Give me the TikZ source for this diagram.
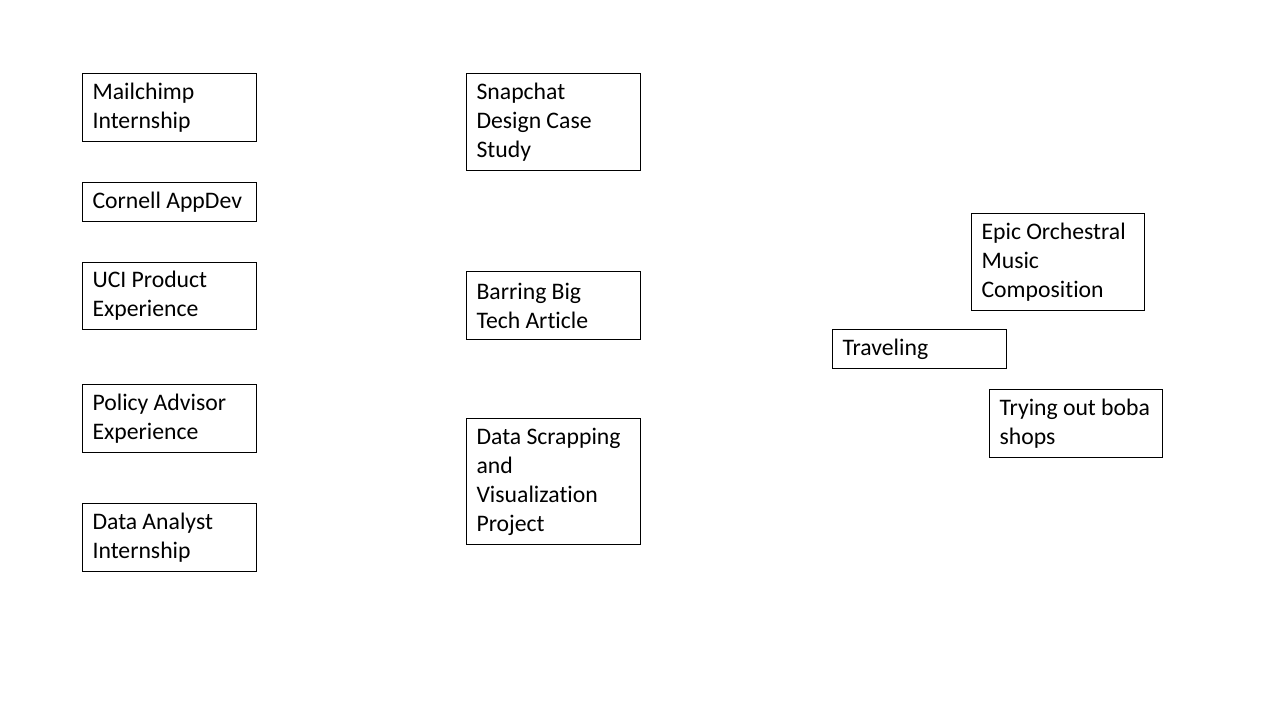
\documentclass[tikz,border=0pt]{standalone}
\usepackage{fontspec}
\setmainfont{Carlito}[Ligatures=NoCommon]
\usepackage{tikz}

\begin{document}
\begin{tikzpicture}[x=0.02cm, y=-0.02cm,
		card/.style={draw=black, line width=0.6pt, anchor=north west, align=left,
			inner xsep=5.7pt, inner ysep=0pt, text width=174*0.02cm-11.4pt,
			font=\fontsize{13.5}{16.5}\selectfont,
			execute at begin node={\spaceskip=0.22em\relax}}]
			\useasboundingbox (0,0) rectangle (1280,720);
			
			\node[card, minimum height=68*0.02cm] (mailchimp) at (82,73) {Mailchimp\\Internship};
			\node[card, minimum height=39*0.02cm] (appdev) at (82,182) {Cornell AppDev};
			\node[card, minimum height=67*0.02cm] (uci) at (82,262) {UCI Product\\Experience};
			\node[card, minimum height=68*0.02cm] (policy) at (82,384) {Policy Advisor\\Experience};
			\node[card, minimum height=68*0.02cm] (analyst) at (82,503) {Data Analyst\\Internship};
			
			\node[card, minimum height=97*0.02cm] (snapchat) at (466,73) {Snapchat\\Design Case\\Study};
			\node[card, minimum height=68*0.02cm] (bigtech) at (466,271) {Barring Big\\Tech Article};
			\node[card, minimum height=126*0.02cm] (scrapping) at (466,418) {Data Scrapping\\and\\Visualization\\Project};
			
			\node[card, minimum height=97*0.02cm, text width=173*0.02cm-11.4pt] (orchestral) at (971,213) {Epic Orchestral\\Music\\Composition};
			\node[card, minimum height=39*0.02cm] (traveling) at (832,329) {Traveling};
			\node[card, minimum height=68*0.02cm, text width=173*0.02cm-11.4pt] (boba) at (989,389) {\mbox{Trying out boba}\\shops};
		\end{tikzpicture}
\end{document}
